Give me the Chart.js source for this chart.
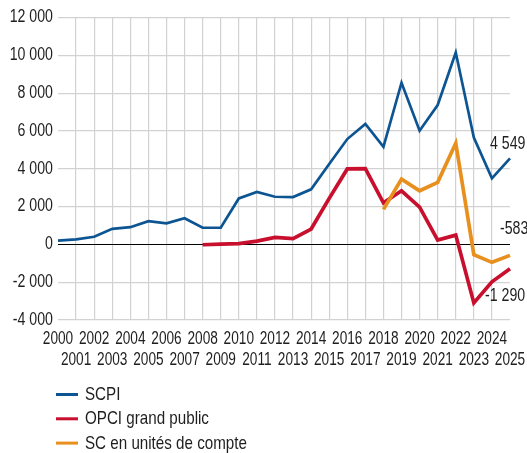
<!DOCTYPE html>
<html>
<head>
<meta charset="utf-8">
<script src="https://cdn.jsdelivr.net/npm/chart.js@4/dist/chart.umd.min.js"></script>
<style>
  body { margin: 0; background: #fff; }
</style>
</head>
<body>
<canvas id="main" width="527" height="453"></canvas>
<script>
const years = ['2000','2001','2002','2003','2004','2005','2006','2007','2008','2009','2010','2011','2012',
  '2013','2014','2015','2016','2017','2018','2019','2020','2021','2022','2023','2024','2025'];
const scpi = [200, 260, 400, 820, 910, 1230, 1110, 1380, 880, 880, 2430, 2770, 2520, 2500, 2910, 4250,
  5570, 6370, 5160, 8550, 6010, 7370, 10150, 5650, 3490, 4549];
const opci = [null, null, null, null, null, null, null, null, -20, 10, 40, 175, 370, 300, 810, 2430,
  3990, 4010, 2200, 2835, 1970, 230, 490, -3100, -1980, -1290];
const scUc = [null, null, null, null, null, null, null, null, null, null, null, null, null, null, null, null,
  null, null, 1850, 3450, 2835, 3280, 5350, -540, -950, -583];
const seriesNames = ['SCPI', 'OPCI grand public', 'SC en unités de compte'];
const colors = ['#0d5592', '#c8102e', '#e8901e'];
const yTicks = [-4000, 12000, 2000];

const FONT = "'Liberation Sans', Arial, sans-serif";
const TXT = '#1e1e1e';
const fmt = v => {
  const s = Math.abs(v).toString().replace(/\B(?=(\d{3})+(?!\d))/g, ' ');
  return (v < 0 ? '-' : '') + s;
};

// the reference uses a condensed face; squeeze Liberation Sans with fillText's maxWidth
const squeeze = (ctx, text, x, y, k) => {
  const w = ctx.measureText(text).width;
  ctx.fillText(text, x, y, w * k);
};

const textLayer = {
  id: 'textLayer',
  afterDraw(chart) {
    const ctx = chart.ctx;
    const xs = chart.scales.x, ys = chart.scales.y;
    const area = chart.chartArea;
    ctx.save();
    ctx.fillStyle = TXT;
    ctx.textBaseline = 'middle';

    // y tick labels
    ctx.font = '17.5px ' + FONT;
    ctx.textAlign = 'right';
    ys.ticks.forEach(t => {
      squeeze(ctx, fmt(t.value), area.left - 5, ys.getPixelForValue(t.value), 0.81);
    });

    // x tick labels, even years first row, odd years second row
    ctx.textAlign = 'center';
    years.forEach((y, i) => {
      const px = xs.getPixelForTick(i);
      squeeze(ctx, y, px, area.bottom + 19 + (i % 2) * 21, 0.78);
    });

    // end-of-line values
    const offsets = [[-20, -14], [-25, 27], [-10, -26]];
    ctx.textAlign = 'left';
    chart.data.datasets.forEach((ds, i) => {
      const meta = chart.getDatasetMeta(i);
      const pt = meta.data[meta.data.length - 1];
      squeeze(ctx, fmt(ds.data[ds.data.length - 1]), pt.x + offsets[i][0], pt.y + offsets[i][1], 0.81);
    });

    // legend
    ctx.font = '18.5px ' + FONT;
    seriesNames.forEach((n, i) => {
      const cy = 394.5 + i * 24.3;
      ctx.fillStyle = colors[i];
      ctx.fillRect(56, cy - 1.5, 22, 3);
      ctx.fillStyle = TXT;
      squeeze(ctx, n, 85, cy + 0.5, 0.82);
    });
    ctx.restore();
  }
};

const mk = (label, data, color, width, order) => ({
  label, data, borderColor: color, backgroundColor: color, borderWidth: width,
  pointRadius: 0, tension: 0, spanGaps: false, order
});

new Chart(document.getElementById('main'), {
  type: 'line',
  data: {
    labels: years,
    datasets: [
      mk(seriesNames[0], scpi, colors[0], 2.7, 3),
      mk(seriesNames[1], opci, colors[1], 3.7, 2),
      mk(seriesNames[2], scUc, colors[2], 3.7, 1)
    ]
  },
  options: {
    responsive: false,
    animation: false,
    layout: { padding: { top: 17.5, right: 17, bottom: 133, left: 0 } },
    plugins: { legend: { display: false }, tooltip: { enabled: false } },
    scales: {
      x: {
        offset: false,
        border: { display: false },
        afterFit: s => { s.height = 0; },
        grid: {
          drawTicks: false,
          lineWidth: 1.2,
          color: c => (c.index === 0 || c.index === years.length - 1) ? 'rgba(0,0,0,0)' : '#d2d2d2'
        },
        ticks: { display: false, autoSkip: false, maxRotation: 0 }
      },
      y: {
        min: yTicks[0], max: yTicks[1],
        border: { display: false },
        afterFit: s => { s.width = 58; },
        grid: {
          drawTicks: false,
          lineWidth: c => c.tick && c.tick.value === 0 ? 1 : 1.2,
          color: c => c.tick && c.tick.value === 0 ? '#000' : '#d2d2d2'
        },
        ticks: { display: false, stepSize: yTicks[2] }
      }
    }
  },
  plugins: [textLayer]
});
</script>
</body>
</html>
